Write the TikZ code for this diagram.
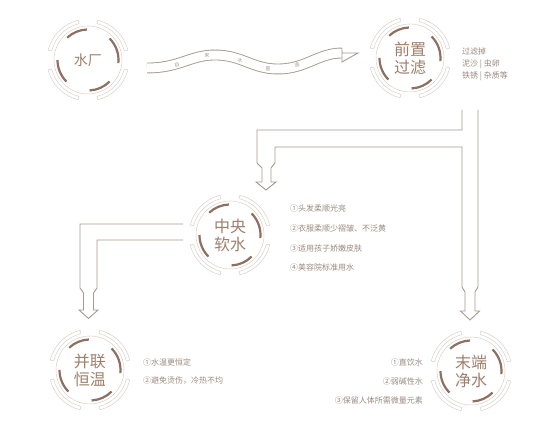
\documentclass[tikz,border=0pt]{standalone}
\usepackage{fontspec}
\setmainfont{Noto Sans CJK SC}
\definecolor{pipec}{HTML}{A89A8F}
\definecolor{ringc}{HTML}{D8D1CB}
\definecolor{arcc}{HTML}{8E6F60}
\definecolor{labc}{HTML}{9E7F6C}
\definecolor{infoc}{HTML}{9C8B80}
\tikzset{
  pipe/.style={draw=pipec, line width=0.9pt, line join=miter},
  thinring/.style={draw=ringc, line width=0.5pt},
  thickarc/.style={draw=arcc, line width=2.2pt},
  lab/.style={text=labc, font=\fontsize{16}{18}\selectfont, align=center, inner sep=0pt},
  info/.style={text=infoc, font=\fontsize{8}{9}\selectfont, inner sep=0pt},
  wavetxt/.style={text=pipec, font=\fontsize{5}{5}\selectfont, inner sep=0pt},
  ring/.pic={
    \foreach \s/\e in {14/76,104/166,194/256,284/346}{
      \draw[thinring] (\s:41pt) arc[start angle=\s,end angle=\e,radius=41pt]
        -- (\e:37.5pt) arc[start angle=\e,end angle=\s,radius=37.5pt] -- cycle;}
    \draw[thinring] (0,0) circle[radius=34pt];
    \foreach \s/\e in {92/133,-6/45,-87/-45,180/225}
      \draw[thickarc] (\s:30.5pt) arc[start angle=\s,end angle=\e,radius=30.5pt];
  }
}
\begin{document}
\begin{tikzpicture}[x=1pt,y=-1pt]
\useasboundingbox[fill=white] (0,0) rectangle (550,422);

% circles
\node[lab, font=\fontsize{14}{16}\selectfont] (sc) at (88,60) {水厂};
\pic at (sc) {ring};
\node[lab] (qz) at (410,58) {前置\\过滤};
\pic at (qz) {ring};
\node[lab] (zy) at (230,235) {中央\\软水};
\pic at (zy) {ring};
\node[lab] (bl) at (90,370) {并联\\恒温};
\pic at (bl) {ring};
\node[lab] (md) at (471,371) {末端\\净水};
\pic at (md) {ring};

% side texts
\node[info, anchor=west] (t1) at (462,51) {过滤掉};
\node[info, anchor=west] (t2) at (462,64) {泥沙 | 虫卵};
\node[info, anchor=west] (t3) at (462,76) {铁锈 | 杂质等};

\node[info, anchor=west] (z1) at (290,208) {①头发柔顺光亮};
\node[info, anchor=west] (z2) at (290,228) {②衣服柔顺少褶皱、不泛黄};
\node[info, anchor=west] (z3) at (290,248) {③适用孩子娇嫩皮肤};
\node[info, anchor=west] (z4) at (290,267) {④美容院标准用水};

\node[info, anchor=west] (b1) at (143,362) {①水温更恒定};
\node[info, anchor=west] (b2) at (143,381) {②避免烫伤，冷热不均};

\node[info, anchor=east] (m1) at (423,362) {①直饮水};
\node[info, anchor=east] (m2) at (423,381) {②弱碱性水};
\node[info, anchor=east] (m3) at (423,400) {③保留人体所需微量元素};

% wave pipe
\coordinate (w0) at (147,68);
\coordinate (w3) at (342,53);
\draw[pipe, double=white, double distance=9pt]
  (w0) .. controls (180,68) and (190,55) .. (215,55)
  .. controls (242,55) and (252,69) .. (278,69)
  .. controls (306,69) and (318,53) .. (w3);
\draw[pipe, fill=white] ([yshift=-4.5pt]w3) -- ++(0,-4.5) -- (358,53) -- (342,62) -- ([yshift=4.5pt]w3);
\node[wavetxt, rotate=18] (c1) at (177,64.5) {自};
\node[wavetxt, rotate=4] (c2) at (207,55.5) {来};
\node[wavetxt, rotate=-17] (c3) at (240,60) {水};
\node[wavetxt, rotate=-6] (c4) at (268,68.5) {管};
\node[wavetxt, rotate=16] (c5) at (297,65) {道};

% pipe from filter down to soft water and terminal
\coordinate (pa) at (462,110);
\coordinate (pb) at (478,110);
\draw[pipe] (pa) -- (462,130) -- (257,130) -- (257,163) -- (262,168) -- (262,182)
  -- (256,182) -- (266,190) -- (276,182) -- (271,182) -- (271,168) -- (275,163)
  -- (275,147) -- (462,147) -- (462,287) -- (465,292) -- (465,311) -- (460.5,311)
  -- (470,320) -- (479.5,311) -- (475,311) -- (475,292) -- (478,287) -- (pb);

% pipe from soft water to parallel heating
\coordinate (pc) at (183,224);
\coordinate (pd) at (183,240);
\draw[pipe] (pc) -- (80,224) -- (80,288) -- (83.5,293) -- (83.5,310) -- (79,310)
  -- (88.5,318.5) -- (98,310) -- (93.5,310) -- (93.5,293) -- (97,288) -- (97,240) -- (pd);
\end{tikzpicture}
\end{document}
